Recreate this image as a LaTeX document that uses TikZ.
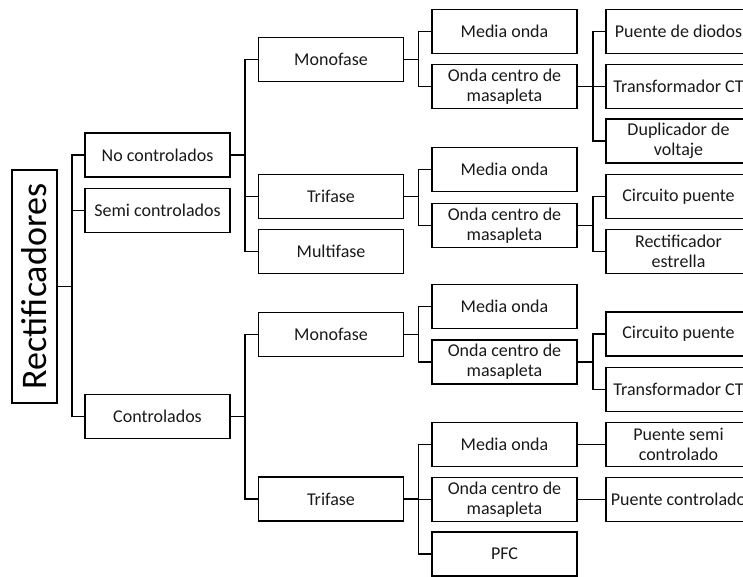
\documentclass[tikz,border=0pt]{standalone}
\usepackage{fontspec}
\setmainfont{Carlito}
\begin{document}
\begin{tikzpicture}[x=1pt,y=-1pt,
  bx/.style={draw=black,line width=1.7pt,minimum width=145pt,minimum height=44pt,inner sep=0pt,align=center,
    font=\fontsize{18}{20}\selectfont,text=black!90},
  ln/.style={draw=black,line width=1.5pt}]
\clip (0,0) rectangle (743,577);
\node[draw=black,line width=1.7pt,rotate=90,minimum width=233pt,minimum height=45pt,inner sep=0pt,
  font=\fontsize{36}{40}\selectfont] (root) at (34.5,286.5) {Rectificadores};
% level 1
\node[bx] (nc) at (157.5,155) {No controlados};
\node[bx] (sc) at (157.5,210.5) {Semi controlados};
\node[bx] (co) at (157.5,416.5) {Controlados};
% level 2
\node[bx] (ncm) at (331,59.5) {Monofase};
\node[bx] (nct) at (331,196.5) {Trifase};
\node[bx] (ncx) at (331,251.5) {Multifase};
\node[bx] (com) at (331,334.5) {Monofase};
\node[bx] (cot) at (331,499) {Trifase};
% level 3
\node[bx] (ncmm) at (504.5,31.5) {Media onda};
\node[bx] (ncmo) at (504.5,86.5) {Onda centro de\\masapleta};
\node[bx] (nctm) at (504.5,169.5) {Media onda};
\node[bx] (ncto) at (504.5,225.5) {Onda centro de\\masapleta};
\node[bx] (comm) at (504.5,306.5) {Media onda};
\node[bx] (como) at (504.5,362) {Onda centro de\\masapleta};
\node[bx] (cotm) at (504.5,444.5) {Media onda};
\node[bx] (coto) at (504.5,499.5) {Onda centro de\\masapleta};
\node[bx] (cotp) at (504.5,554) {PFC};
% level 4
\node[bx] (a1) at (678.5,31.5) {Puente de diodos};
\node[bx] (a2) at (678.5,86.5) {Transformador CT};
\node[bx] (a3) at (678.5,141) {Duplicador de\\voltaje};
\node[bx] (b1) at (678.5,196.5) {Circuito puente};
\node[bx] (b2) at (678.5,251.5) {Rectificador\\estrella};
\node[bx] (c1) at (678.5,334) {Circuito puente};
\node[bx] (c2) at (678.5,389.5) {Transformador CT};
\node[bx] (d1) at (678.5,444.5) {Puente semi\\controlado};
\node[bx] (d2) at (678.5,499.5) {Puente controlado};
% connectors
\foreach \c in {nc,sc,co} \draw[ln] (root.south) -- ++(14,0) |- (\c.west);
\foreach \c in {ncm,nct,ncx} \draw[ln] (nc.east) -- ++(14,0) |- (\c.west);
\foreach \c in {com,cot} \draw[ln] (co.east) -- ++(14,0) |- (\c.west);
\foreach \c in {ncmm,ncmo} \draw[ln] (ncm.east) -- ++(14,0) |- (\c.west);
\foreach \c in {nctm,ncto} \draw[ln] (nct.east) -- ++(14,0) |- (\c.west);
\foreach \c in {comm,como} \draw[ln] (com.east) -- ++(14,0) |- (\c.west);
\foreach \c in {cotm,coto,cotp} \draw[ln] (cot.east) -- ++(14,0) |- (\c.west);
\foreach \c in {a1,a2,a3} \draw[ln] (ncmo.east) -- ++(15,0) |- (\c.west);
\foreach \c in {b1,b2} \draw[ln] (ncto.east) -- ++(15,0) |- (\c.west);
\foreach \c in {c1,c2} \draw[ln] (como.east) -- ++(15,0) |- (\c.west);
\draw[ln] (cotm.east) -- (d1.west);
\draw[ln] (coto.east) -- (d2.west);
\end{tikzpicture}
\end{document}
